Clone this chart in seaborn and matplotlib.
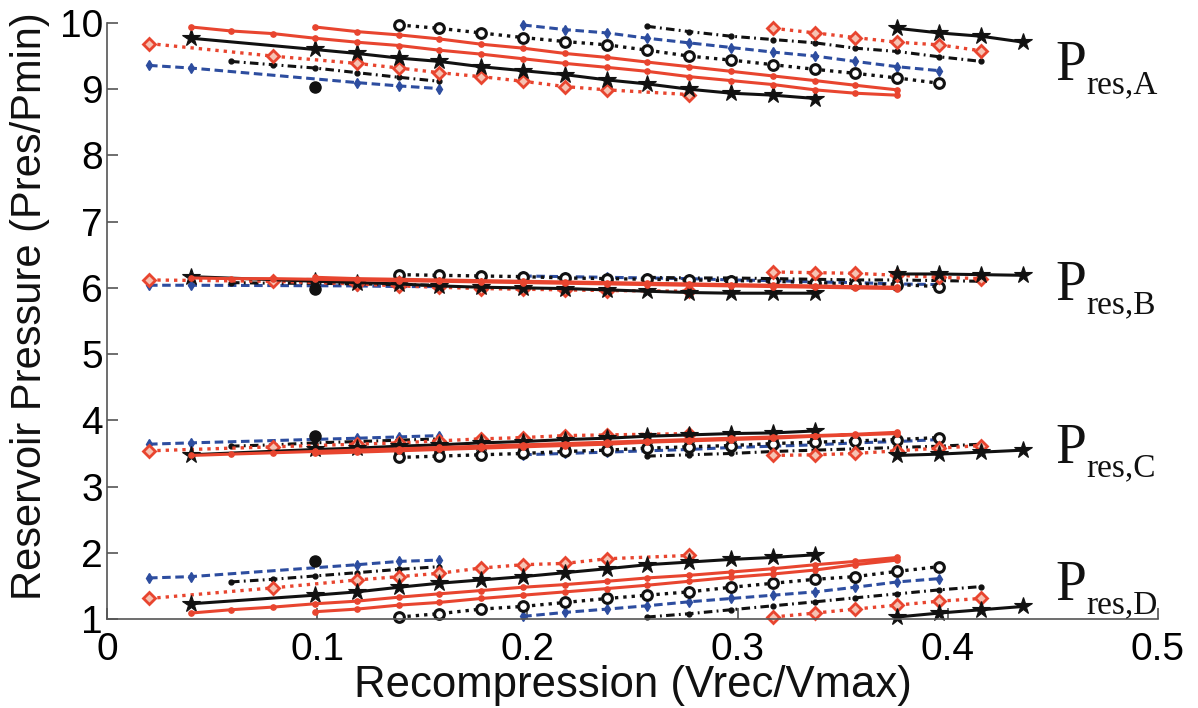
import matplotlib
matplotlib.use("Agg")
import matplotlib.pyplot as plt
import pandas as pd
import seaborn as sns

# ---------------------------------------------------------------
# Recompression positions (Vrec/Vmax) of each cycle segment
# ---------------------------------------------------------------
x_red_solid = [0.040, 0.059, 0.079, 0.099, 0.119, 0.139, 0.158, 0.178, 0.198,
               0.218, 0.238, 0.257, 0.277, 0.297, 0.317, 0.337, 0.356, 0.376,
               0.376, 0.356, 0.337, 0.317, 0.297, 0.277, 0.257, 0.238, 0.218,
               0.198, 0.178, 0.158, 0.139, 0.119, 0.099]
x_star_1 = [0.040, 0.099, 0.119, 0.139, 0.158, 0.178, 0.198, 0.218, 0.238,
            0.257, 0.277, 0.297, 0.317, 0.337]
x_star_2 = [0.376, 0.396, 0.416, 0.436]
x_diam_1 = [0.020, 0.079, 0.119, 0.139, 0.158, 0.178, 0.198, 0.218, 0.238, 0.277]
x_diam_2 = [0.317, 0.337, 0.356, 0.376, 0.396, 0.416]
x_blue_1 = [0.020, 0.040, 0.119, 0.139, 0.158]
x_blue_2 = [0.198, 0.218, 0.238, 0.257, 0.277, 0.297, 0.317, 0.337, 0.356,
            0.376, 0.396]
x_dd_1 = [0.059, 0.079, 0.099, 0.119, 0.139, 0.158]
x_dd_2 = [0.257, 0.277, 0.297, 0.317, 0.337, 0.356, 0.376, 0.396, 0.416]
x_circ_pt = [0.099]
x_circ = [0.139, 0.158, 0.178, 0.198, 0.218, 0.238, 0.257, 0.277, 0.297,
          0.317, 0.337, 0.356, 0.376, 0.396]

# ---------------------------------------------------------------
# Reservoir pressure A (Pres/Pmin)
# ---------------------------------------------------------------
red_solid_A = [9.94, 9.88, 9.84, 9.77, 9.71, 9.66, 9.59, 9.53, 9.46, 9.39,
               9.33, 9.27, 9.19, 9.13, 9.07, 8.99, 8.94, 8.91,
               8.99, 9.06, 9.13, 9.20, 9.27, 9.34, 9.41, 9.48, 9.54, 9.62,
               9.68, 9.76, 9.82, 9.87, 9.94]
star_1_A = [9.77, 9.60, 9.54, 9.47, 9.42, 9.34, 9.28, 9.22, 9.14, 9.08, 9.00,
            8.94, 8.91, 8.86]
star_2_A = [9.92, 9.85, 9.80, 9.71]
diam_1_A = [9.69, 9.50, 9.39, 9.32, 9.25, 9.19, 9.12, 9.04, 8.99, 8.92]
diam_2_A = [9.92, 9.85, 9.78, 9.71, 9.67, 9.58]
blue_1_A = [9.36, 9.32, 9.10, 9.05, 9.01]
blue_2_A = [9.97, 9.90, 9.85, 9.77, 9.70, 9.63, 9.56, 9.50, 9.42, 9.34, 9.28]
dd_1_A = [9.42, 9.37, 9.32, 9.25, 9.18, 9.12]
dd_2_A = [9.95, 9.87, 9.80, 9.75, 9.70, 9.62, 9.57, 9.49, 9.42]
circ_pt_A = [9.04]
circ_A = [9.97, 9.92, 9.85, 9.78, 9.72, 9.67, 9.59, 9.50, 9.44, 9.37, 9.30,
          9.24, 9.17, 9.09]

# ---------------------------------------------------------------
# Reservoir pressure B
# ---------------------------------------------------------------
red_solid_B = [6.15, 6.14, 6.14, 6.13, 6.12, 6.11, 6.10, 6.09, 6.08, 6.07,
               6.06, 6.05, 6.04, 6.03, 6.02, 6.01, 6.00, 5.99,
               6.01, 6.02, 6.03, 6.04, 6.05, 6.06, 6.07, 6.08, 6.09, 6.10,
               6.11, 6.12, 6.13, 6.14, 6.16]
star_1_B = [6.17, 6.10, 6.08, 6.06, 6.03, 6.01, 6.00, 5.99, 5.97, 5.95, 5.93,
            5.92, 5.92, 5.92]
star_2_B = [6.21, 6.21, 6.20, 6.19]
diam_1_B = [6.12, 6.10, 6.06, 6.03, 6.01, 5.99, 5.98, 5.97, 5.96, 5.95]
diam_2_B = [6.24, 6.23, 6.22, 6.19, 6.16, 6.14]
blue_1_B = [6.04, 6.04, 6.03, 6.02, 6.02]
blue_2_B = [6.18, 6.17, 6.16, 6.15, 6.14, 6.12, 6.11, 6.09, 6.08, 6.06, 6.05]
dd_1_B = [6.08, 6.07, 6.07, 6.06, 6.05, 6.04]
dd_2_B = [6.16, 6.15, 6.15, 6.14, 6.13, 6.12, 6.12, 6.11, 6.10]
circ_pt_B = [5.99]
circ_B = [6.20, 6.19, 6.18, 6.17, 6.15, 6.14, 6.13, 6.12, 6.11, 6.10, 6.08,
          6.06, 6.05, 6.02]

# ---------------------------------------------------------------
# Reservoir pressure C
# ---------------------------------------------------------------
red_solid_C = [3.47, 3.49, 3.51, 3.53, 3.55, 3.57, 3.59, 3.61, 3.63, 3.65,
               3.67, 3.69, 3.71, 3.73, 3.75, 3.77, 3.79, 3.82,
               3.80, 3.78, 3.76, 3.73, 3.71, 3.69, 3.67, 3.64, 3.62, 3.60,
               3.58, 3.56, 3.54, 3.52, 3.50]
star_1_C = [3.48, 3.56, 3.58, 3.61, 3.63, 3.66, 3.68, 3.71, 3.73, 3.76, 3.78,
            3.80, 3.81, 3.84]
star_2_C = [3.47, 3.49, 3.52, 3.55]
diam_1_C = [3.54, 3.60, 3.64, 3.66, 3.69, 3.72, 3.74, 3.77, 3.78, 3.80]
diam_2_C = [3.47, 3.48, 3.50, 3.54, 3.58, 3.62]
blue_1_C = [3.64, 3.66, 3.73, 3.75, 3.77]
blue_2_C = [3.48, 3.50, 3.52, 3.54, 3.56, 3.59, 3.61, 3.63, 3.66, 3.68, 3.71]
dd_1_C = [3.61, 3.63, 3.66, 3.68, 3.70, 3.72]
dd_2_C = [3.46, 3.48, 3.50, 3.53, 3.55, 3.57, 3.59, 3.61, 3.64]
circ_pt_C = [3.76]
circ_C = [3.44, 3.46, 3.48, 3.50, 3.53, 3.55, 3.58, 3.60, 3.62, 3.65, 3.67,
          3.69, 3.71, 3.74]

# ---------------------------------------------------------------
# Reservoir pressure D
# ---------------------------------------------------------------
red_solid_D = [1.09, 1.14, 1.18, 1.23, 1.27, 1.33, 1.38, 1.43, 1.48, 1.52,
               1.57, 1.62, 1.66, 1.71, 1.76, 1.82, 1.87, 1.93,
               1.89, 1.82, 1.74, 1.68, 1.63, 1.57, 1.51, 1.46, 1.41, 1.36,
               1.31, 1.25, 1.21, 1.15, 1.11]
star_1_D = [1.23, 1.36, 1.41, 1.48, 1.54, 1.59, 1.64, 1.70, 1.76, 1.82, 1.86,
            1.90, 1.93, 1.97]
star_2_D = [1.03, 1.09, 1.14, 1.19]
diam_1_D = [1.31, 1.47, 1.59, 1.64, 1.69, 1.77, 1.82, 1.84, 1.91, 1.96]
diam_2_D = [1.03, 1.09, 1.15, 1.21, 1.27, 1.31]
blue_1_D = [1.62, 1.64, 1.82, 1.87, 1.89]
blue_2_D = [1.04, 1.10, 1.15, 1.20, 1.26, 1.31, 1.36, 1.41, 1.48, 1.56, 1.61]
dd_1_D = [1.56, 1.60, 1.65, 1.70, 1.75, 1.79]
dd_2_D = [1.03, 1.08, 1.14, 1.20, 1.26, 1.32, 1.38, 1.44, 1.49]
circ_pt_D = [1.87]
circ_D = [1.03, 1.08, 1.15, 1.19, 1.25, 1.31, 1.36, 1.41, 1.48, 1.54, 1.60,
          1.64, 1.72, 1.79]

group_names = ["A", "B", "C", "D"]
group_label_y = [9.14, 5.82, 3.36, 1.29]
x_ticks = [0, 0.1, 0.2, 0.3, 0.4, 0.5]
x_tick_labels = ["0", "0.1", "0.2", "0.3", "0.4", "0.5"]
y_ticks = [1, 2, 3, 4, 5, 6, 7, 8, 9, 10]
y_tick_labels = ["1", "2", "3", "4", "5", "6", "7", "8", "9", "10"]

RED = "#e8452f"
BLUE = "#2d4d9f"
BLACK = "#111111"

styles = {
    "blue": dict(color=BLUE, linestyle=(0, (2.8, 1.5)), linewidth=2.2,
                 marker="d", markersize=5, markerfacecolor=BLUE,
                 markeredgecolor=BLUE, markeredgewidth=1),
    "dd": dict(color=BLACK, linestyle=(0, (2.8, 1.4, 0.6, 1.4)), linewidth=2.2,
               marker="o", markersize=3.5, markerfacecolor=BLACK,
               markeredgecolor=BLACK, markeredgewidth=1),
    "circ": dict(color=BLACK, linestyle=(0, (1.0, 1.5)), linewidth=2.4,
                 marker="o", markersize=7, markerfacecolor="white",
                 markeredgecolor=BLACK, markeredgewidth=2.2),
    "circ_pt": dict(color=BLACK, linestyle="none", linewidth=0,
                    marker="o", markersize=8, markerfacecolor=BLACK,
                    markeredgecolor=BLACK, markeredgewidth=1),
    "diam": dict(color=RED, linestyle=(0, (1.0, 1.5)), linewidth=2.4,
                 marker="D", markersize=6.5, markerfacecolor="#f6c2b2",
                 markeredgecolor=RED, markeredgewidth=2),
    "star": dict(color=BLACK, linestyle="-", linewidth=2.2,
                 marker="*", markersize=13, markerfacecolor=BLACK,
                 markeredgecolor=BLACK, markeredgewidth=0.8),
    "red_solid": dict(color=RED, linestyle="-", linewidth=2.2,
                      marker="o", markersize=3.8, markerfacecolor=RED,
                      markeredgecolor=RED, markeredgewidth=1),
}

series_x = {
    "blue": [x_blue_1, x_blue_2],
    "dd": [x_dd_1, x_dd_2],
    "circ": [x_circ],
    "circ_pt": [x_circ_pt],
    "diam": [x_diam_1, x_diam_2],
    "star": [x_star_1, x_star_2],
    "red_solid": [x_red_solid],
}
series_y = {
    "A": {"blue": [blue_1_A, blue_2_A], "dd": [dd_1_A, dd_2_A], "circ": [circ_A],
          "circ_pt": [circ_pt_A], "diam": [diam_1_A, diam_2_A],
          "star": [star_1_A, star_2_A], "red_solid": [red_solid_A]},
    "B": {"blue": [blue_1_B, blue_2_B], "dd": [dd_1_B, dd_2_B], "circ": [circ_B],
          "circ_pt": [circ_pt_B], "diam": [diam_1_B, diam_2_B],
          "star": [star_1_B, star_2_B], "red_solid": [red_solid_B]},
    "C": {"blue": [blue_1_C, blue_2_C], "dd": [dd_1_C, dd_2_C], "circ": [circ_C],
          "circ_pt": [circ_pt_C], "diam": [diam_1_C, diam_2_C],
          "star": [star_1_C, star_2_C], "red_solid": [red_solid_C]},
    "D": {"blue": [blue_1_D, blue_2_D], "dd": [dd_1_D, dd_2_D], "circ": [circ_D],
          "circ_pt": [circ_pt_D], "diam": [diam_1_D, diam_2_D],
          "star": [star_1_D, star_2_D], "red_solid": [red_solid_D]},
}

sns.set_theme(style="ticks")
plt.rcParams["font.family"] = ["Liberation Sans", "DejaVu Sans"]

fig = plt.figure(figsize=(11.98, 7.08), dpi=100)
ax = fig.add_axes([0.0893, 0.1257, 0.8773, 0.8418])

for g in group_names:
    for key in ["blue", "dd", "circ", "circ_pt", "diam", "star", "red_solid"]:
        for xs, ys in zip(series_x[key], series_y[g][key]):
            seg = pd.DataFrame({"x": xs, "y": ys})
            sns.lineplot(data=seg, x="x", y="y", sort=False, estimator=None,
                         ax=ax, clip_on=False, **styles[key])

ax.set_xlim(0, 0.5)
ax.set_ylim(1, 10)
ax.set_xticks(x_ticks)
ax.set_xticklabels(x_tick_labels)
ax.set_yticks(y_ticks)
ax.set_yticklabels(y_tick_labels)
ax.tick_params(axis="both", direction="in", length=8, width=1.2,
               color="#555555", labelsize=28, labelcolor="black")
ax.tick_params(axis="x", pad=9)
ax.tick_params(axis="y", pad=3)
sns.despine(ax=ax)
for side in ["left", "bottom"]:
    ax.spines[side].set_color("#555555")
    ax.spines[side].set_linewidth(1.2)

ax.set_xlabel("Recompression (Vrec/Vmax)", fontsize=31.5, color="#111111")
ax.set_ylabel("Reservoir Pressure (Pres/Pmin)", fontsize=30, color="#111111")
ax.xaxis.set_label_coords(0.5, -0.078)
ax.yaxis.set_label_coords(-0.054, 0.525)

serif = ["Liberation Serif", "DejaVu Serif"]
for g, yv in zip(group_names, group_label_y):
    ax.annotate("P", xy=(0.451, yv), xycoords="data", fontsize=40,
                family=serif, ha="left", va="baseline", color="#111111",
                annotation_clip=False)
    ax.annotate("res," + g, xy=(0.451, yv), xycoords="data",
                xytext=(22.5, -9.5), textcoords="offset points", fontsize=24,
                family=serif, ha="left", va="baseline", color="#111111",
                annotation_clip=False)

fig.savefig("out.png", dpi=100)
